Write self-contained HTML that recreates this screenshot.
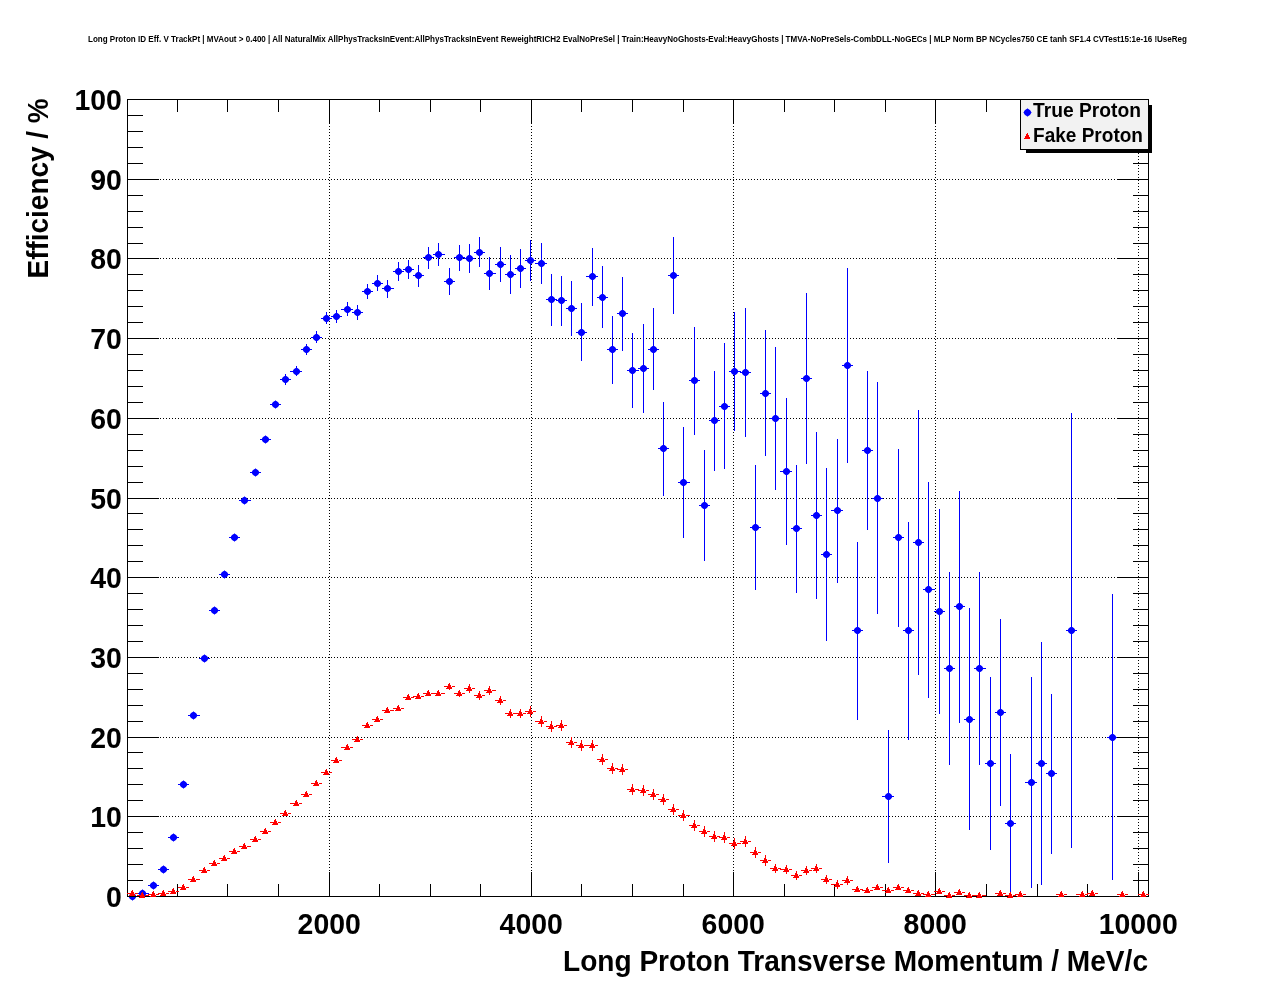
<!DOCTYPE html>
<html lang="en"><head><meta charset="utf-8"><title>Long Proton ID Eff. V TrackPt</title>
<style>
html,body{margin:0;padding:0;background:#fff;}
body{width:1276px;height:996px;overflow:hidden;}
svg{display:block;}
svg text{font-family:"Liberation Sans",sans-serif;font-weight:bold;fill:#000;}
</style></head>
<body>
<svg width="1276" height="996" viewBox="0 0 1276 996">
<rect x="0" y="0" width="1276" height="996" fill="#fff"/>
<g stroke="#000" stroke-width="1" stroke-dasharray="1 2" shape-rendering="crispEdges"><line x1="127" y1="816.5" x2="1149" y2="816.5"/><line x1="127" y1="737.5" x2="1149" y2="737.5"/><line x1="127" y1="657.5" x2="1149" y2="657.5"/><line x1="127" y1="577.5" x2="1149" y2="577.5"/><line x1="127" y1="498.5" x2="1149" y2="498.5"/><line x1="127" y1="418.5" x2="1149" y2="418.5"/><line x1="127" y1="338.5" x2="1149" y2="338.5"/><line x1="127" y1="258.5" x2="1149" y2="258.5"/><line x1="127" y1="179.5" x2="1149" y2="179.5"/><line x1="329.5" y1="99" x2="329.5" y2="897"/><line x1="531.5" y1="99" x2="531.5" y2="897"/><line x1="733.5" y1="99" x2="733.5" y2="897"/><line x1="935.5" y1="99" x2="935.5" y2="897"/><line x1="1138.5" y1="99" x2="1138.5" y2="897"/></g>
<path fill="#00f" shape-rendering="crispEdges" d="M127 896h11v1h-11zM137 893h12v1h-12zM148 885h11v1h-11zM158 869h11v1h-11zM168 837h11v1h-11zM178 784h11v1h-11zM188 715h12v1h-12zM199 658h11v1h-11zM209 610h11v1h-11zM219 574h11v1h-11zM229 537h11v1h-11zM239 500h12v1h-12zM250 472h11v1h-11zM260 439h11v1h-11zM270 404h11v1h-11zM280 379h11v1h-11zM285 374h1v11h-1zM290 371h12v1h-12zM296 366h1v10h-1zM301 349h11v1h-11zM306 344h1v11h-1zM311 337h11v1h-11zM316 331h1v12h-1zM321 318h11v1h-11zM326 312h1v12h-1zM331 316h11v1h-11zM336 310h1v13h-1zM341 309h12v1h-12zM347 302h1v14h-1zM352 312h11v1h-11zM357 305h1v15h-1zM362 291h11v1h-11zM367 284h1v15h-1zM372 283h11v1h-11zM377 275h1v16h-1zM382 288h12v1h-12zM387 280h1v18h-1zM393 271h11v1h-11zM398 262h1v19h-1zM403 269h11v1h-11zM408 260h1v19h-1zM413 275h11v1h-11zM418 265h1v22h-1zM423 257h11v1h-11zM428 247h1v22h-1zM433 254h12v1h-12zM438 243h1v23h-1zM444 281h11v1h-11zM449 268h1v27h-1zM454 257h11v1h-11zM459 245h1v26h-1zM464 258h11v1h-11zM469 244h1v29h-1zM474 252h11v1h-11zM479 237h1v30h-1zM484 273h12v1h-12zM489 257h1v33h-1zM495 264h11v1h-11zM500 247h1v35h-1zM505 274h11v1h-11zM510 255h1v39h-1zM515 268h11v1h-11zM520 249h1v39h-1zM525 260h11v1h-11zM530 240h1v41h-1zM535 263h12v1h-12zM541 243h1v41h-1zM546 299h11v1h-11zM551 274h1v52h-1zM556 300h11v1h-11zM561 276h1v50h-1zM566 308h11v1h-11zM571 281h1v55h-1zM576 332h11v1h-11zM581 303h1v58h-1zM586 276h12v1h-12zM592 248h1v58h-1zM597 297h11v1h-11zM602 266h1v62h-1zM607 349h11v1h-11zM612 316h1v68h-1zM617 313h11v1h-11zM622 277h1v74h-1zM627 370h12v1h-12zM632 333h1v75h-1zM638 368h11v1h-11zM643 324h1v89h-1zM648 349h11v1h-11zM653 308h1v82h-1zM658 448h11v1h-11zM663 402h1v94h-1zM668 275h11v1h-11zM673 237h1v77h-1zM678 482h12v1h-12zM683 427h1v111h-1zM689 380h11v1h-11zM694 327h1v108h-1zM699 505h11v1h-11zM704 450h1v111h-1zM709 420h11v1h-11zM714 371h1v100h-1zM719 406h11v1h-11zM724 343h1v126h-1zM729 371h12v1h-12zM734 312h1v119h-1zM740 372h11v1h-11zM745 308h1v129h-1zM750 527h11v1h-11zM755 465h1v125h-1zM760 393h11v1h-11zM765 330h1v126h-1zM770 418h11v1h-11zM775 347h1v143h-1zM780 471h12v1h-12zM786 398h1v147h-1zM791 528h11v1h-11zM796 465h1v128h-1zM801 378h11v1h-11zM806 293h1v171h-1zM811 515h11v1h-11zM816 432h1v167h-1zM821 554h11v1h-11zM826 468h1v173h-1zM831 510h12v1h-12zM837 439h1v144h-1zM842 365h11v1h-11zM847 268h1v195h-1zM852 630h11v1h-11zM857 542h1v178h-1zM862 450h11v1h-11zM867 371h1v159h-1zM872 498h11v1h-11zM877 382h1v232h-1zM882 796h12v1h-12zM888 730h1v133h-1zM893 537h11v1h-11zM898 449h1v178h-1zM903 630h11v1h-11zM908 522h1v218h-1zM913 542h11v1h-11zM918 410h1v265h-1zM923 589h12v1h-12zM928 482h1v216h-1zM934 611h11v1h-11zM939 509h1v205h-1zM944 668h11v1h-11zM949 572h1v193h-1zM954 606h11v1h-11zM959 491h1v232h-1zM964 719h11v1h-11zM969 608h1v222h-1zM974 668h12v1h-12zM979 572h1v193h-1zM985 763h11v1h-11zM990 677h1v173h-1zM995 712h11v1h-11zM1000 619h1v187h-1zM1005 823h11v1h-11zM1010 754h1v139h-1zM1025 782h12v1h-12zM1031 677h1v211h-1zM1036 763h11v1h-11zM1041 642h1v243h-1zM1046 773h11v1h-11zM1051 694h1v160h-1zM1066 630h11v1h-11zM1071 413h1v435h-1zM1107 737h11v1h-11zM1112 594h1v286h-1z"/>
<g fill="#00f"><circle cx="132.5" cy="896.5" r="3.3"/><circle cx="142.5" cy="893.5" r="3.3"/><circle cx="153.5" cy="885.5" r="3.3"/><circle cx="163.5" cy="869.5" r="3.3"/><circle cx="173.5" cy="837.5" r="3.3"/><circle cx="183.5" cy="784.5" r="3.3"/><circle cx="193.5" cy="715.5" r="3.3"/><circle cx="204.5" cy="658.5" r="3.3"/><circle cx="214.5" cy="610.5" r="3.3"/><circle cx="224.5" cy="574.5" r="3.3"/><circle cx="234.5" cy="537.5" r="3.3"/><circle cx="244.5" cy="500.5" r="3.3"/><circle cx="255.5" cy="472.5" r="3.3"/><circle cx="265.5" cy="439.5" r="3.3"/><circle cx="275.5" cy="404.5" r="3.3"/><circle cx="285.5" cy="379.5" r="3.3"/><circle cx="296.5" cy="371.5" r="3.3"/><circle cx="306.5" cy="349.5" r="3.3"/><circle cx="316.5" cy="337.5" r="3.3"/><circle cx="326.5" cy="318.5" r="3.3"/><circle cx="336.5" cy="316.5" r="3.3"/><circle cx="347.5" cy="309.5" r="3.3"/><circle cx="357.5" cy="312.5" r="3.3"/><circle cx="367.5" cy="291.5" r="3.3"/><circle cx="377.5" cy="283.5" r="3.3"/><circle cx="387.5" cy="288.5" r="3.3"/><circle cx="398.5" cy="271.5" r="3.3"/><circle cx="408.5" cy="269.5" r="3.3"/><circle cx="418.5" cy="275.5" r="3.3"/><circle cx="428.5" cy="257.5" r="3.3"/><circle cx="438.5" cy="254.5" r="3.3"/><circle cx="449.5" cy="281.5" r="3.3"/><circle cx="459.5" cy="257.5" r="3.3"/><circle cx="469.5" cy="258.5" r="3.3"/><circle cx="479.5" cy="252.5" r="3.3"/><circle cx="489.5" cy="273.5" r="3.3"/><circle cx="500.5" cy="264.5" r="3.3"/><circle cx="510.5" cy="274.5" r="3.3"/><circle cx="520.5" cy="268.5" r="3.3"/><circle cx="530.5" cy="260.5" r="3.3"/><circle cx="541.5" cy="263.5" r="3.3"/><circle cx="551.5" cy="299.5" r="3.3"/><circle cx="561.5" cy="300.5" r="3.3"/><circle cx="571.5" cy="308.5" r="3.3"/><circle cx="581.5" cy="332.5" r="3.3"/><circle cx="592.5" cy="276.5" r="3.3"/><circle cx="602.5" cy="297.5" r="3.3"/><circle cx="612.5" cy="349.5" r="3.3"/><circle cx="622.5" cy="313.5" r="3.3"/><circle cx="632.5" cy="370.5" r="3.3"/><circle cx="643.5" cy="368.5" r="3.3"/><circle cx="653.5" cy="349.5" r="3.3"/><circle cx="663.5" cy="448.5" r="3.3"/><circle cx="673.5" cy="275.5" r="3.3"/><circle cx="683.5" cy="482.5" r="3.3"/><circle cx="694.5" cy="380.5" r="3.3"/><circle cx="704.5" cy="505.5" r="3.3"/><circle cx="714.5" cy="420.5" r="3.3"/><circle cx="724.5" cy="406.5" r="3.3"/><circle cx="734.5" cy="371.5" r="3.3"/><circle cx="745.5" cy="372.5" r="3.3"/><circle cx="755.5" cy="527.5" r="3.3"/><circle cx="765.5" cy="393.5" r="3.3"/><circle cx="775.5" cy="418.5" r="3.3"/><circle cx="786.5" cy="471.5" r="3.3"/><circle cx="796.5" cy="528.5" r="3.3"/><circle cx="806.5" cy="378.5" r="3.3"/><circle cx="816.5" cy="515.5" r="3.3"/><circle cx="826.5" cy="554.5" r="3.3"/><circle cx="837.5" cy="510.5" r="3.3"/><circle cx="847.5" cy="365.5" r="3.3"/><circle cx="857.5" cy="630.5" r="3.3"/><circle cx="867.5" cy="450.5" r="3.3"/><circle cx="877.5" cy="498.5" r="3.3"/><circle cx="888.5" cy="796.5" r="3.3"/><circle cx="898.5" cy="537.5" r="3.3"/><circle cx="908.5" cy="630.5" r="3.3"/><circle cx="918.5" cy="542.5" r="3.3"/><circle cx="928.5" cy="589.5" r="3.3"/><circle cx="939.5" cy="611.5" r="3.3"/><circle cx="949.5" cy="668.5" r="3.3"/><circle cx="959.5" cy="606.5" r="3.3"/><circle cx="969.5" cy="719.5" r="3.3"/><circle cx="979.5" cy="668.5" r="3.3"/><circle cx="990.5" cy="763.5" r="3.3"/><circle cx="1000.5" cy="712.5" r="3.3"/><circle cx="1010.5" cy="823.5" r="3.3"/><circle cx="1031.5" cy="782.5" r="3.3"/><circle cx="1041.5" cy="763.5" r="3.3"/><circle cx="1051.5" cy="773.5" r="3.3"/><circle cx="1071.5" cy="630.5" r="3.3"/><circle cx="1112.5" cy="737.5" r="3.3"/><path d="M132.5 892.3l4.2 4.2l-4.2 4.2l-4.2 -4.2zM142.5 889.3l4.2 4.2l-4.2 4.2l-4.2 -4.2zM153.5 881.3l4.2 4.2l-4.2 4.2l-4.2 -4.2zM163.5 865.3l4.2 4.2l-4.2 4.2l-4.2 -4.2zM173.5 833.3l4.2 4.2l-4.2 4.2l-4.2 -4.2zM183.5 780.3l4.2 4.2l-4.2 4.2l-4.2 -4.2zM193.5 711.3l4.2 4.2l-4.2 4.2l-4.2 -4.2zM204.5 654.3l4.2 4.2l-4.2 4.2l-4.2 -4.2zM214.5 606.3l4.2 4.2l-4.2 4.2l-4.2 -4.2zM224.5 570.3l4.2 4.2l-4.2 4.2l-4.2 -4.2zM234.5 533.3l4.2 4.2l-4.2 4.2l-4.2 -4.2zM244.5 496.3l4.2 4.2l-4.2 4.2l-4.2 -4.2zM255.5 468.3l4.2 4.2l-4.2 4.2l-4.2 -4.2zM265.5 435.3l4.2 4.2l-4.2 4.2l-4.2 -4.2zM275.5 400.3l4.2 4.2l-4.2 4.2l-4.2 -4.2zM285.5 375.3l4.2 4.2l-4.2 4.2l-4.2 -4.2zM296.5 367.3l4.2 4.2l-4.2 4.2l-4.2 -4.2zM306.5 345.3l4.2 4.2l-4.2 4.2l-4.2 -4.2zM316.5 333.3l4.2 4.2l-4.2 4.2l-4.2 -4.2zM326.5 314.3l4.2 4.2l-4.2 4.2l-4.2 -4.2zM336.5 312.3l4.2 4.2l-4.2 4.2l-4.2 -4.2zM347.5 305.3l4.2 4.2l-4.2 4.2l-4.2 -4.2zM357.5 308.3l4.2 4.2l-4.2 4.2l-4.2 -4.2zM367.5 287.3l4.2 4.2l-4.2 4.2l-4.2 -4.2zM377.5 279.3l4.2 4.2l-4.2 4.2l-4.2 -4.2zM387.5 284.3l4.2 4.2l-4.2 4.2l-4.2 -4.2zM398.5 267.3l4.2 4.2l-4.2 4.2l-4.2 -4.2zM408.5 265.3l4.2 4.2l-4.2 4.2l-4.2 -4.2zM418.5 271.3l4.2 4.2l-4.2 4.2l-4.2 -4.2zM428.5 253.3l4.2 4.2l-4.2 4.2l-4.2 -4.2zM438.5 250.3l4.2 4.2l-4.2 4.2l-4.2 -4.2zM449.5 277.3l4.2 4.2l-4.2 4.2l-4.2 -4.2zM459.5 253.3l4.2 4.2l-4.2 4.2l-4.2 -4.2zM469.5 254.3l4.2 4.2l-4.2 4.2l-4.2 -4.2zM479.5 248.3l4.2 4.2l-4.2 4.2l-4.2 -4.2zM489.5 269.3l4.2 4.2l-4.2 4.2l-4.2 -4.2zM500.5 260.3l4.2 4.2l-4.2 4.2l-4.2 -4.2zM510.5 270.3l4.2 4.2l-4.2 4.2l-4.2 -4.2zM520.5 264.3l4.2 4.2l-4.2 4.2l-4.2 -4.2zM530.5 256.3l4.2 4.2l-4.2 4.2l-4.2 -4.2zM541.5 259.3l4.2 4.2l-4.2 4.2l-4.2 -4.2zM551.5 295.3l4.2 4.2l-4.2 4.2l-4.2 -4.2zM561.5 296.3l4.2 4.2l-4.2 4.2l-4.2 -4.2zM571.5 304.3l4.2 4.2l-4.2 4.2l-4.2 -4.2zM581.5 328.3l4.2 4.2l-4.2 4.2l-4.2 -4.2zM592.5 272.3l4.2 4.2l-4.2 4.2l-4.2 -4.2zM602.5 293.3l4.2 4.2l-4.2 4.2l-4.2 -4.2zM612.5 345.3l4.2 4.2l-4.2 4.2l-4.2 -4.2zM622.5 309.3l4.2 4.2l-4.2 4.2l-4.2 -4.2zM632.5 366.3l4.2 4.2l-4.2 4.2l-4.2 -4.2zM643.5 364.3l4.2 4.2l-4.2 4.2l-4.2 -4.2zM653.5 345.3l4.2 4.2l-4.2 4.2l-4.2 -4.2zM663.5 444.3l4.2 4.2l-4.2 4.2l-4.2 -4.2zM673.5 271.3l4.2 4.2l-4.2 4.2l-4.2 -4.2zM683.5 478.3l4.2 4.2l-4.2 4.2l-4.2 -4.2zM694.5 376.3l4.2 4.2l-4.2 4.2l-4.2 -4.2zM704.5 501.3l4.2 4.2l-4.2 4.2l-4.2 -4.2zM714.5 416.3l4.2 4.2l-4.2 4.2l-4.2 -4.2zM724.5 402.3l4.2 4.2l-4.2 4.2l-4.2 -4.2zM734.5 367.3l4.2 4.2l-4.2 4.2l-4.2 -4.2zM745.5 368.3l4.2 4.2l-4.2 4.2l-4.2 -4.2zM755.5 523.3l4.2 4.2l-4.2 4.2l-4.2 -4.2zM765.5 389.3l4.2 4.2l-4.2 4.2l-4.2 -4.2zM775.5 414.3l4.2 4.2l-4.2 4.2l-4.2 -4.2zM786.5 467.3l4.2 4.2l-4.2 4.2l-4.2 -4.2zM796.5 524.3l4.2 4.2l-4.2 4.2l-4.2 -4.2zM806.5 374.3l4.2 4.2l-4.2 4.2l-4.2 -4.2zM816.5 511.3l4.2 4.2l-4.2 4.2l-4.2 -4.2zM826.5 550.3l4.2 4.2l-4.2 4.2l-4.2 -4.2zM837.5 506.3l4.2 4.2l-4.2 4.2l-4.2 -4.2zM847.5 361.3l4.2 4.2l-4.2 4.2l-4.2 -4.2zM857.5 626.3l4.2 4.2l-4.2 4.2l-4.2 -4.2zM867.5 446.3l4.2 4.2l-4.2 4.2l-4.2 -4.2zM877.5 494.3l4.2 4.2l-4.2 4.2l-4.2 -4.2zM888.5 792.3l4.2 4.2l-4.2 4.2l-4.2 -4.2zM898.5 533.3l4.2 4.2l-4.2 4.2l-4.2 -4.2zM908.5 626.3l4.2 4.2l-4.2 4.2l-4.2 -4.2zM918.5 538.3l4.2 4.2l-4.2 4.2l-4.2 -4.2zM928.5 585.3l4.2 4.2l-4.2 4.2l-4.2 -4.2zM939.5 607.3l4.2 4.2l-4.2 4.2l-4.2 -4.2zM949.5 664.3l4.2 4.2l-4.2 4.2l-4.2 -4.2zM959.5 602.3l4.2 4.2l-4.2 4.2l-4.2 -4.2zM969.5 715.3l4.2 4.2l-4.2 4.2l-4.2 -4.2zM979.5 664.3l4.2 4.2l-4.2 4.2l-4.2 -4.2zM990.5 759.3l4.2 4.2l-4.2 4.2l-4.2 -4.2zM1000.5 708.3l4.2 4.2l-4.2 4.2l-4.2 -4.2zM1010.5 819.3l4.2 4.2l-4.2 4.2l-4.2 -4.2zM1031.5 778.3l4.2 4.2l-4.2 4.2l-4.2 -4.2zM1041.5 759.3l4.2 4.2l-4.2 4.2l-4.2 -4.2zM1051.5 769.3l4.2 4.2l-4.2 4.2l-4.2 -4.2zM1071.5 626.3l4.2 4.2l-4.2 4.2l-4.2 -4.2zM1112.5 733.3l4.2 4.2l-4.2 4.2l-4.2 -4.2z"/></g>
<path fill="#000" shape-rendering="crispEdges" d="M127 99h1022v1h-1022zM127 896h1022v1h-1022zM127 99h1v798h-1zM1148 99h1v798h-1zM177 884h1v12h-1zM177 100h1v12h-1zM227 884h1v12h-1zM227 100h1v12h-1zM278 884h1v12h-1zM278 100h1v12h-1zM329 872h1v24h-1zM329 100h1v24h-1zM379 884h1v12h-1zM379 100h1v12h-1zM430 884h1v12h-1zM430 100h1v12h-1zM480 884h1v12h-1zM480 100h1v12h-1zM531 872h1v24h-1zM531 100h1v24h-1zM581 884h1v12h-1zM581 100h1v12h-1zM632 884h1v12h-1zM632 100h1v12h-1zM683 884h1v12h-1zM683 100h1v12h-1zM733 872h1v24h-1zM733 100h1v24h-1zM784 884h1v12h-1zM784 100h1v12h-1zM834 884h1v12h-1zM834 100h1v12h-1zM885 884h1v12h-1zM885 100h1v12h-1zM935 872h1v24h-1zM935 100h1v24h-1zM986 884h1v12h-1zM986 100h1v12h-1zM1037 884h1v12h-1zM1037 100h1v12h-1zM1087 884h1v12h-1zM1087 100h1v12h-1zM1138 872h1v24h-1zM1138 100h1v24h-1zM128 880h15v1h-15zM1133 880h15v1h-15zM128 864h15v1h-15zM1133 864h15v1h-15zM128 848h15v1h-15zM1133 848h15v1h-15zM128 832h15v1h-15zM1133 832h15v1h-15zM128 816h31v1h-31zM1117 816h31v1h-31zM128 800h15v1h-15zM1133 800h15v1h-15zM128 784h15v1h-15zM1133 784h15v1h-15zM128 768h15v1h-15zM1133 768h15v1h-15zM128 752h15v1h-15zM1133 752h15v1h-15zM128 737h31v1h-31zM1117 737h31v1h-31zM128 721h15v1h-15zM1133 721h15v1h-15zM128 705h15v1h-15zM1133 705h15v1h-15zM128 689h15v1h-15zM1133 689h15v1h-15zM128 673h15v1h-15zM1133 673h15v1h-15zM128 657h31v1h-31zM1117 657h31v1h-31zM128 641h15v1h-15zM1133 641h15v1h-15zM128 625h15v1h-15zM1133 625h15v1h-15zM128 609h15v1h-15zM1133 609h15v1h-15zM128 593h15v1h-15zM1133 593h15v1h-15zM128 577h31v1h-31zM1117 577h31v1h-31zM128 561h15v1h-15zM1133 561h15v1h-15zM128 545h15v1h-15zM1133 545h15v1h-15zM128 529h15v1h-15zM1133 529h15v1h-15zM128 513h15v1h-15zM1133 513h15v1h-15zM128 498h31v1h-31zM1117 498h31v1h-31zM128 482h15v1h-15zM1133 482h15v1h-15zM128 466h15v1h-15zM1133 466h15v1h-15zM128 450h15v1h-15zM1133 450h15v1h-15zM128 434h15v1h-15zM1133 434h15v1h-15zM128 418h31v1h-31zM1117 418h31v1h-31zM128 402h15v1h-15zM1133 402h15v1h-15zM128 386h15v1h-15zM1133 386h15v1h-15zM128 370h15v1h-15zM1133 370h15v1h-15zM128 354h15v1h-15zM1133 354h15v1h-15zM128 338h31v1h-31zM1117 338h31v1h-31zM128 322h15v1h-15zM1133 322h15v1h-15zM128 306h15v1h-15zM1133 306h15v1h-15zM128 290h15v1h-15zM1133 290h15v1h-15zM128 274h15v1h-15zM1133 274h15v1h-15zM128 258h31v1h-31zM1117 258h31v1h-31zM128 243h15v1h-15zM1133 243h15v1h-15zM128 227h15v1h-15zM1133 227h15v1h-15zM128 211h15v1h-15zM1133 211h15v1h-15zM128 195h15v1h-15zM1133 195h15v1h-15zM128 179h31v1h-31zM1117 179h31v1h-31zM128 163h15v1h-15zM1133 163h15v1h-15zM128 147h15v1h-15zM1133 147h15v1h-15zM128 131h15v1h-15zM1133 131h15v1h-15zM128 115h15v1h-15zM1133 115h15v1h-15z"/>
<path fill="#f00" shape-rendering="crispEdges" d="M127 893h3v1h-3zM135 893h3v1h-3zM132 890h1v1h-1zM131 891h2v1h-2zM131 892h3v1h-3zM130 893h4v1h-4zM130 894h5v1h-5zM129 895h6v1h-6zM137 895h3v1h-3zM145 895h4v1h-4zM142 892h1v1h-1zM141 893h2v1h-2zM141 894h3v1h-3zM140 895h4v1h-4zM140 896h5v1h-5zM139 897h6v1h-6zM148 894h3v1h-3zM156 894h3v1h-3zM153 891h1v1h-1zM152 892h2v1h-2zM152 893h3v1h-3zM151 894h4v1h-4zM151 895h5v1h-5zM150 896h6v1h-6zM158 893h3v1h-3zM166 893h3v1h-3zM163 890h1v1h-1zM162 891h2v1h-2zM162 892h3v1h-3zM161 893h4v1h-4zM161 894h5v1h-5zM160 895h6v1h-6zM168 891h3v1h-3zM176 891h3v1h-3zM173 888h1v1h-1zM172 889h2v1h-2zM172 890h3v1h-3zM171 891h4v1h-4zM171 892h5v1h-5zM170 893h6v1h-6zM178 887h3v1h-3zM186 887h3v1h-3zM183 884h1v1h-1zM182 885h2v1h-2zM182 886h3v1h-3zM181 887h4v1h-4zM181 888h5v1h-5zM180 889h6v1h-6zM188 879h3v1h-3zM196 879h4v1h-4zM193 876h1v1h-1zM192 877h2v1h-2zM192 878h3v1h-3zM191 879h4v1h-4zM191 880h5v1h-5zM190 881h6v1h-6zM199 870h3v1h-3zM207 870h3v1h-3zM204 867h1v1h-1zM203 868h2v1h-2zM203 869h3v1h-3zM202 870h4v1h-4zM202 871h5v1h-5zM201 872h6v1h-6zM209 863h3v1h-3zM217 863h3v1h-3zM214 860h1v1h-1zM213 861h2v1h-2zM213 862h3v1h-3zM212 863h4v1h-4zM212 864h5v1h-5zM211 865h6v1h-6zM219 858h3v1h-3zM227 858h3v1h-3zM224 855h1v1h-1zM223 856h2v1h-2zM223 857h3v1h-3zM222 858h4v1h-4zM222 859h5v1h-5zM221 860h6v1h-6zM229 851h3v1h-3zM237 851h3v1h-3zM234 848h1v1h-1zM233 849h2v1h-2zM233 850h3v1h-3zM232 851h4v1h-4zM232 852h5v1h-5zM231 853h6v1h-6zM239 846h3v1h-3zM247 846h4v1h-4zM244 843h1v1h-1zM243 844h2v1h-2zM243 845h3v1h-3zM242 846h4v1h-4zM242 847h5v1h-5zM241 848h6v1h-6zM250 839h3v1h-3zM258 839h3v1h-3zM255 836h1v1h-1zM254 837h2v1h-2zM254 838h3v1h-3zM253 839h4v1h-4zM253 840h5v1h-5zM252 841h6v1h-6zM260 831h3v1h-3zM268 831h3v1h-3zM265 828h1v1h-1zM264 829h2v1h-2zM264 830h3v1h-3zM263 831h4v1h-4zM263 832h5v1h-5zM262 833h6v1h-6zM270 822h3v1h-3zM278 822h3v1h-3zM275 819h1v1h-1zM274 820h2v1h-2zM274 821h3v1h-3zM273 822h4v1h-4zM273 823h5v1h-5zM272 824h6v1h-6zM280 813h3v1h-3zM288 813h3v1h-3zM285 810h1v1h-1zM284 811h2v1h-2zM284 812h3v1h-3zM283 813h4v1h-4zM283 814h5v1h-5zM282 815h6v1h-6zM290 803h4v1h-4zM299 803h3v1h-3zM296 800h1v1h-1zM295 801h2v1h-2zM295 802h3v1h-3zM294 803h4v1h-4zM294 804h5v1h-5zM293 805h6v1h-6zM301 794h3v1h-3zM309 794h3v1h-3zM306 791h1v1h-1zM305 792h2v1h-2zM305 793h3v1h-3zM304 794h4v1h-4zM304 795h5v1h-5zM303 796h6v1h-6zM311 783h3v1h-3zM319 783h3v1h-3zM316 780h1v1h-1zM315 781h2v1h-2zM315 782h3v1h-3zM314 783h4v1h-4zM314 784h5v1h-5zM313 785h6v1h-6zM321 772h3v1h-3zM329 772h3v1h-3zM326 769h1v1h-1zM325 770h2v1h-2zM325 771h3v1h-3zM324 772h4v1h-4zM324 773h5v1h-5zM323 774h6v1h-6zM331 760h3v1h-3zM339 760h3v1h-3zM336 757h1v1h-1zM335 758h2v1h-2zM335 759h3v1h-3zM334 760h4v1h-4zM334 761h5v1h-5zM333 762h6v1h-6zM341 747h4v1h-4zM350 747h3v1h-3zM347 744h1v1h-1zM346 745h2v1h-2zM346 746h3v1h-3zM345 747h4v1h-4zM345 748h5v1h-5zM344 749h6v1h-6zM352 739h3v1h-3zM360 739h3v1h-3zM357 736h1v1h-1zM356 737h2v1h-2zM356 738h3v1h-3zM355 739h4v1h-4zM355 740h5v1h-5zM354 741h6v1h-6zM362 725h3v1h-3zM370 725h3v1h-3zM367 722h1v1h-1zM366 723h2v1h-2zM366 724h3v1h-3zM365 725h4v1h-4zM365 726h5v1h-5zM364 727h6v1h-6zM372 719h3v1h-3zM380 719h3v1h-3zM377 716h1v1h-1zM376 717h2v1h-2zM376 718h3v1h-3zM375 719h4v1h-4zM375 720h5v1h-5zM374 721h6v1h-6zM382 710h3v1h-3zM390 710h4v1h-4zM387 707h1v1h-1zM386 708h2v1h-2zM386 709h3v1h-3zM385 710h4v1h-4zM385 711h5v1h-5zM384 712h6v1h-6zM393 708h3v1h-3zM401 708h3v1h-3zM398 705h1v1h-1zM397 706h2v1h-2zM397 707h3v1h-3zM396 708h4v1h-4zM396 709h5v1h-5zM395 710h6v1h-6zM403 697h3v1h-3zM411 697h3v1h-3zM408 694h1v1h-1zM407 695h2v1h-2zM407 696h3v1h-3zM406 697h4v1h-4zM406 698h5v1h-5zM405 699h6v1h-6zM413 696h3v1h-3zM421 696h3v1h-3zM418 693h1v1h-1zM417 694h2v1h-2zM417 695h3v1h-3zM416 696h4v1h-4zM416 697h5v1h-5zM415 698h6v1h-6zM423 693h3v1h-3zM431 693h3v1h-3zM428 690h1v1h-1zM427 691h2v1h-2zM427 692h3v1h-3zM426 693h4v1h-4zM426 694h5v1h-5zM425 695h6v1h-6zM433 693h3v1h-3zM441 693h4v1h-4zM438 690h1v1h-1zM437 691h2v1h-2zM437 692h3v1h-3zM436 693h4v1h-4zM436 694h5v1h-5zM435 695h6v1h-6zM444 686h3v1h-3zM452 686h3v1h-3zM449 683h1v7h-1zM449 683h1v1h-1zM448 684h2v1h-2zM448 685h3v1h-3zM447 686h4v1h-4zM447 687h5v1h-5zM446 688h6v1h-6zM454 693h3v1h-3zM462 693h3v1h-3zM459 690h1v7h-1zM459 690h1v1h-1zM458 691h2v1h-2zM458 692h3v1h-3zM457 693h4v1h-4zM457 694h5v1h-5zM456 695h6v1h-6zM464 688h3v1h-3zM472 688h3v1h-3zM469 684h1v9h-1zM469 685h1v1h-1zM468 686h2v1h-2zM468 687h3v1h-3zM467 688h4v1h-4zM467 689h5v1h-5zM466 690h6v1h-6zM474 695h3v1h-3zM482 695h3v1h-3zM479 691h1v9h-1zM479 692h1v1h-1zM478 693h2v1h-2zM478 694h3v1h-3zM477 695h4v1h-4zM477 696h5v1h-5zM476 697h6v1h-6zM484 690h3v1h-3zM492 690h4v1h-4zM489 686h1v9h-1zM489 687h1v1h-1zM488 688h2v1h-2zM488 689h3v1h-3zM487 690h4v1h-4zM487 691h5v1h-5zM486 692h6v1h-6zM495 700h3v1h-3zM503 700h3v1h-3zM500 696h1v9h-1zM500 697h1v1h-1zM499 698h2v1h-2zM499 699h3v1h-3zM498 700h4v1h-4zM498 701h5v1h-5zM497 702h6v1h-6zM505 713h3v1h-3zM513 713h3v1h-3zM510 709h1v9h-1zM510 710h1v1h-1zM509 711h2v1h-2zM509 712h3v1h-3zM508 713h4v1h-4zM508 714h5v1h-5zM507 715h6v1h-6zM515 713h3v1h-3zM523 713h3v1h-3zM520 709h1v9h-1zM520 710h1v1h-1zM519 711h2v1h-2zM519 712h3v1h-3zM518 713h4v1h-4zM518 714h5v1h-5zM517 715h6v1h-6zM525 711h3v1h-3zM533 711h3v1h-3zM530 706h1v11h-1zM530 708h1v1h-1zM529 709h2v1h-2zM529 710h3v1h-3zM528 711h4v1h-4zM528 712h5v1h-5zM527 713h6v1h-6zM535 721h4v1h-4zM544 721h3v1h-3zM541 716h1v11h-1zM541 718h1v1h-1zM540 719h2v1h-2zM540 720h3v1h-3zM539 721h4v1h-4zM539 722h5v1h-5zM538 723h6v1h-6zM546 726h3v1h-3zM554 726h3v1h-3zM551 721h1v11h-1zM551 723h1v1h-1zM550 724h2v1h-2zM550 725h3v1h-3zM549 726h4v1h-4zM549 727h5v1h-5zM548 728h6v1h-6zM556 725h3v1h-3zM564 725h3v1h-3zM561 720h1v11h-1zM561 722h1v1h-1zM560 723h2v1h-2zM560 724h3v1h-3zM559 725h4v1h-4zM559 726h5v1h-5zM558 727h6v1h-6zM566 742h3v1h-3zM574 742h3v1h-3zM571 737h1v11h-1zM571 739h1v1h-1zM570 740h2v1h-2zM570 741h3v1h-3zM569 742h4v1h-4zM569 743h5v1h-5zM568 744h6v1h-6zM576 745h3v1h-3zM584 745h3v1h-3zM581 740h1v11h-1zM581 742h1v1h-1zM580 743h2v1h-2zM580 744h3v1h-3zM579 745h4v1h-4zM579 746h5v1h-5zM578 747h6v1h-6zM586 745h4v1h-4zM595 745h3v1h-3zM592 740h1v11h-1zM592 742h1v1h-1zM591 743h2v1h-2zM591 744h3v1h-3zM590 745h4v1h-4zM590 746h5v1h-5zM589 747h6v1h-6zM597 759h3v1h-3zM605 759h3v1h-3zM602 754h1v11h-1zM602 756h1v1h-1zM601 757h2v1h-2zM601 758h3v1h-3zM600 759h4v1h-4zM600 760h5v1h-5zM599 761h6v1h-6zM607 768h3v1h-3zM615 768h3v1h-3zM612 763h1v11h-1zM612 765h1v1h-1zM611 766h2v1h-2zM611 767h3v1h-3zM610 768h4v1h-4zM610 769h5v1h-5zM609 770h6v1h-6zM617 769h3v1h-3zM625 769h3v1h-3zM622 764h1v11h-1zM622 766h1v1h-1zM621 767h2v1h-2zM621 768h3v1h-3zM620 769h4v1h-4zM620 770h5v1h-5zM619 771h6v1h-6zM627 789h3v1h-3zM635 789h4v1h-4zM632 784h1v11h-1zM632 786h1v1h-1zM631 787h2v1h-2zM631 788h3v1h-3zM630 789h4v1h-4zM630 790h5v1h-5zM629 791h6v1h-6zM638 790h3v1h-3zM646 790h3v1h-3zM643 785h1v11h-1zM643 787h1v1h-1zM642 788h2v1h-2zM642 789h3v1h-3zM641 790h4v1h-4zM641 791h5v1h-5zM640 792h6v1h-6zM648 794h3v1h-3zM656 794h3v1h-3zM653 789h1v11h-1zM653 791h1v1h-1zM652 792h2v1h-2zM652 793h3v1h-3zM651 794h4v1h-4zM651 795h5v1h-5zM650 796h6v1h-6zM658 799h3v1h-3zM666 799h3v1h-3zM663 794h1v11h-1zM663 796h1v1h-1zM662 797h2v1h-2zM662 798h3v1h-3zM661 799h4v1h-4zM661 800h5v1h-5zM660 801h6v1h-6zM668 809h3v1h-3zM676 809h3v1h-3zM673 804h1v11h-1zM673 806h1v1h-1zM672 807h2v1h-2zM672 808h3v1h-3zM671 809h4v1h-4zM671 810h5v1h-5zM670 811h6v1h-6zM678 815h3v1h-3zM686 815h4v1h-4zM683 810h1v11h-1zM683 812h1v1h-1zM682 813h2v1h-2zM682 814h3v1h-3zM681 815h4v1h-4zM681 816h5v1h-5zM680 817h6v1h-6zM689 825h3v1h-3zM697 825h3v1h-3zM694 820h1v11h-1zM694 822h1v1h-1zM693 823h2v1h-2zM693 824h3v1h-3zM692 825h4v1h-4zM692 826h5v1h-5zM691 827h6v1h-6zM699 831h3v1h-3zM707 831h3v1h-3zM704 826h1v11h-1zM704 828h1v1h-1zM703 829h2v1h-2zM703 830h3v1h-3zM702 831h4v1h-4zM702 832h5v1h-5zM701 833h6v1h-6zM709 836h3v1h-3zM717 836h3v1h-3zM714 831h1v11h-1zM714 833h1v1h-1zM713 834h2v1h-2zM713 835h3v1h-3zM712 836h4v1h-4zM712 837h5v1h-5zM711 838h6v1h-6zM719 837h3v1h-3zM727 837h3v1h-3zM724 832h1v11h-1zM724 834h1v1h-1zM723 835h2v1h-2zM723 836h3v1h-3zM722 837h4v1h-4zM722 838h5v1h-5zM721 839h6v1h-6zM729 843h3v1h-3zM737 843h4v1h-4zM734 838h1v11h-1zM734 840h1v1h-1zM733 841h2v1h-2zM733 842h3v1h-3zM732 843h4v1h-4zM732 844h5v1h-5zM731 845h6v1h-6zM740 841h3v1h-3zM748 841h3v1h-3zM745 836h1v11h-1zM745 838h1v1h-1zM744 839h2v1h-2zM744 840h3v1h-3zM743 841h4v1h-4zM743 842h5v1h-5zM742 843h6v1h-6zM750 852h3v1h-3zM758 852h3v1h-3zM755 847h1v11h-1zM755 849h1v1h-1zM754 850h2v1h-2zM754 851h3v1h-3zM753 852h4v1h-4zM753 853h5v1h-5zM752 854h6v1h-6zM760 860h3v1h-3zM768 860h3v1h-3zM765 855h1v11h-1zM765 857h1v1h-1zM764 858h2v1h-2zM764 859h3v1h-3zM763 860h4v1h-4zM763 861h5v1h-5zM762 862h6v1h-6zM770 868h3v1h-3zM778 868h3v1h-3zM775 864h1v9h-1zM775 865h1v1h-1zM774 866h2v1h-2zM774 867h3v1h-3zM773 868h4v1h-4zM773 869h5v1h-5zM772 870h6v1h-6zM780 869h4v1h-4zM789 869h3v1h-3zM786 865h1v9h-1zM786 866h1v1h-1zM785 867h2v1h-2zM785 868h3v1h-3zM784 869h4v1h-4zM784 870h5v1h-5zM783 871h6v1h-6zM791 875h3v1h-3zM799 875h3v1h-3zM796 871h1v9h-1zM796 872h1v1h-1zM795 873h2v1h-2zM795 874h3v1h-3zM794 875h4v1h-4zM794 876h5v1h-5zM793 877h6v1h-6zM801 870h3v1h-3zM809 870h3v1h-3zM806 866h1v9h-1zM806 867h1v1h-1zM805 868h2v1h-2zM805 869h3v1h-3zM804 870h4v1h-4zM804 871h5v1h-5zM803 872h6v1h-6zM811 868h3v1h-3zM819 868h3v1h-3zM816 864h1v9h-1zM816 865h1v1h-1zM815 866h2v1h-2zM815 867h3v1h-3zM814 868h4v1h-4zM814 869h5v1h-5zM813 870h6v1h-6zM821 879h3v1h-3zM829 879h3v1h-3zM826 875h1v9h-1zM826 876h1v1h-1zM825 877h2v1h-2zM825 878h3v1h-3zM824 879h4v1h-4zM824 880h5v1h-5zM823 881h6v1h-6zM831 884h4v1h-4zM840 884h3v1h-3zM837 880h1v9h-1zM837 881h1v1h-1zM836 882h2v1h-2zM836 883h3v1h-3zM835 884h4v1h-4zM835 885h5v1h-5zM834 886h6v1h-6zM842 880h3v1h-3zM850 880h3v1h-3zM847 876h1v9h-1zM847 877h1v1h-1zM846 878h2v1h-2zM846 879h3v1h-3zM845 880h4v1h-4zM845 881h5v1h-5zM844 882h6v1h-6zM852 889h3v1h-3zM860 889h3v1h-3zM857 886h1v1h-1zM856 887h2v1h-2zM856 888h3v1h-3zM855 889h4v1h-4zM855 890h5v1h-5zM854 891h6v1h-6zM862 890h3v1h-3zM870 890h3v1h-3zM867 887h1v1h-1zM866 888h2v1h-2zM866 889h3v1h-3zM865 890h4v1h-4zM865 891h5v1h-5zM864 892h6v1h-6zM872 887h3v1h-3zM880 887h3v1h-3zM877 884h1v1h-1zM876 885h2v1h-2zM876 886h3v1h-3zM875 887h4v1h-4zM875 888h5v1h-5zM874 889h6v1h-6zM882 890h4v1h-4zM891 890h3v1h-3zM888 887h1v1h-1zM887 888h2v1h-2zM887 889h3v1h-3zM886 890h4v1h-4zM886 891h5v1h-5zM885 892h6v1h-6zM893 887h3v1h-3zM901 887h3v1h-3zM898 884h1v1h-1zM897 885h2v1h-2zM897 886h3v1h-3zM896 887h4v1h-4zM896 888h5v1h-5zM895 889h6v1h-6zM903 890h3v1h-3zM911 890h3v1h-3zM908 887h1v1h-1zM907 888h2v1h-2zM907 889h3v1h-3zM906 890h4v1h-4zM906 891h5v1h-5zM905 892h6v1h-6zM913 893h3v1h-3zM921 893h3v1h-3zM918 890h1v1h-1zM917 891h2v1h-2zM917 892h3v1h-3zM916 893h4v1h-4zM916 894h5v1h-5zM915 895h6v1h-6zM923 894h3v1h-3zM931 894h4v1h-4zM928 891h1v1h-1zM927 892h2v1h-2zM927 893h3v1h-3zM926 894h4v1h-4zM926 895h5v1h-5zM925 896h6v1h-6zM934 891h3v1h-3zM942 891h3v1h-3zM939 888h1v1h-1zM938 889h2v1h-2zM938 890h3v1h-3zM937 891h4v1h-4zM937 892h5v1h-5zM936 893h6v1h-6zM944 895h3v1h-3zM952 895h3v1h-3zM949 892h1v1h-1zM948 893h2v1h-2zM948 894h3v1h-3zM947 895h4v1h-4zM947 896h5v1h-5zM946 897h6v1h-6zM954 892h3v1h-3zM962 892h3v1h-3zM959 889h1v1h-1zM958 890h2v1h-2zM958 891h3v1h-3zM957 892h4v1h-4zM957 893h5v1h-5zM956 894h6v1h-6zM964 895h3v1h-3zM972 895h3v1h-3zM969 892h1v1h-1zM968 893h2v1h-2zM968 894h3v1h-3zM967 895h4v1h-4zM967 896h5v1h-5zM966 897h6v1h-6zM974 895h3v1h-3zM982 895h4v1h-4zM979 892h1v1h-1zM978 893h2v1h-2zM978 894h3v1h-3zM977 895h4v1h-4zM977 896h5v1h-5zM976 897h6v1h-6zM995 893h3v1h-3zM1003 893h3v1h-3zM1000 890h1v1h-1zM999 891h2v1h-2zM999 892h3v1h-3zM998 893h4v1h-4zM998 894h5v1h-5zM997 895h6v1h-6zM1005 895h3v1h-3zM1013 895h3v1h-3zM1010 892h1v1h-1zM1009 893h2v1h-2zM1009 894h3v1h-3zM1008 895h4v1h-4zM1008 896h5v1h-5zM1007 897h6v1h-6zM1015 894h3v1h-3zM1023 894h3v1h-3zM1020 891h1v1h-1zM1019 892h2v1h-2zM1019 893h3v1h-3zM1018 894h4v1h-4zM1018 895h5v1h-5zM1017 896h6v1h-6zM1056 894h3v1h-3zM1064 894h3v1h-3zM1061 891h1v1h-1zM1060 892h2v1h-2zM1060 893h3v1h-3zM1059 894h4v1h-4zM1059 895h5v1h-5zM1058 896h6v1h-6zM1076 894h4v1h-4zM1085 894h3v1h-3zM1082 891h1v1h-1zM1081 892h2v1h-2zM1081 893h3v1h-3zM1080 894h4v1h-4zM1080 895h5v1h-5zM1079 896h6v1h-6zM1087 893h3v1h-3zM1095 893h3v1h-3zM1092 890h1v1h-1zM1091 891h2v1h-2zM1091 892h3v1h-3zM1090 893h4v1h-4zM1090 894h5v1h-5zM1089 895h6v1h-6zM1117 894h3v1h-3zM1125 894h3v1h-3zM1122 891h1v1h-1zM1121 892h2v1h-2zM1121 893h3v1h-3zM1120 894h4v1h-4zM1120 895h5v1h-5zM1119 896h6v1h-6zM1138 894h3v1h-3zM1146 894h3v1h-3zM1143 891h1v1h-1zM1142 892h2v1h-2zM1142 893h3v1h-3zM1141 894h4v1h-4zM1141 895h5v1h-5zM1140 896h6v1h-6z"/>
<path fill="#000" shape-rendering="crispEdges" d="M1026 150h126v3h-126zM1149 105h3v48h-3z"/><rect x="1020.5" y="99.5" width="128" height="50" fill="#f2f2f2" stroke="#000" stroke-width="1" shape-rendering="crispEdges"/><circle cx="1027.5" cy="112.5" r="3.3" fill="#00f"/><path fill="#00f" d="M1027.5 108.3l4.2 4.2l-4.2 4.2l-4.2 -4.2z"/><path fill="#f00" shape-rendering="crispEdges" d="M1027 133h1v1h-1zM1026 134h2v1h-2zM1026 135h3v1h-3zM1025 136h4v1h-4zM1025 137h5v1h-5zM1024 138h6v1h-6z"/><text x="1033" y="117.1" font-size="20.3" textLength="108" lengthAdjust="spacingAndGlyphs">True Proton</text><text x="1033" y="142.1" font-size="20.3" textLength="110" lengthAdjust="spacingAndGlyphs">Fake Proton</text>
<text x="121.9" y="906.65" font-size="30" text-anchor="end" textLength="15.8" lengthAdjust="spacingAndGlyphs">0</text><text x="121.9" y="826.65" font-size="30" text-anchor="end" textLength="31.6" lengthAdjust="spacingAndGlyphs">10</text><text x="121.9" y="747.65" font-size="30" text-anchor="end" textLength="31.6" lengthAdjust="spacingAndGlyphs">20</text><text x="121.9" y="667.65" font-size="30" text-anchor="end" textLength="31.6" lengthAdjust="spacingAndGlyphs">30</text><text x="121.9" y="587.65" font-size="30" text-anchor="end" textLength="31.6" lengthAdjust="spacingAndGlyphs">40</text><text x="121.9" y="508.65" font-size="30" text-anchor="end" textLength="31.6" lengthAdjust="spacingAndGlyphs">50</text><text x="121.9" y="428.65" font-size="30" text-anchor="end" textLength="31.6" lengthAdjust="spacingAndGlyphs">60</text><text x="121.9" y="348.65" font-size="30" text-anchor="end" textLength="31.6" lengthAdjust="spacingAndGlyphs">70</text><text x="121.9" y="268.65" font-size="30" text-anchor="end" textLength="31.6" lengthAdjust="spacingAndGlyphs">80</text><text x="121.9" y="189.65" font-size="30" text-anchor="end" textLength="31.6" lengthAdjust="spacingAndGlyphs">90</text><text x="121.9" y="109.65" font-size="30" text-anchor="end" textLength="47.400000000000006" lengthAdjust="spacingAndGlyphs">100</text><text x="329.2" y="934.4" font-size="30" text-anchor="middle" textLength="63.2" lengthAdjust="spacingAndGlyphs">2000</text><text x="531.2" y="934.4" font-size="30" text-anchor="middle" textLength="63.2" lengthAdjust="spacingAndGlyphs">4000</text><text x="733.2" y="934.4" font-size="30" text-anchor="middle" textLength="63.2" lengthAdjust="spacingAndGlyphs">6000</text><text x="935.2" y="934.4" font-size="30" text-anchor="middle" textLength="63.2" lengthAdjust="spacingAndGlyphs">8000</text><text x="1138.2" y="934.4" font-size="30" text-anchor="middle" textLength="79.0" lengthAdjust="spacingAndGlyphs">10000</text><text x="1148" y="971" font-size="30" text-anchor="end" textLength="585" lengthAdjust="spacingAndGlyphs">Long Proton Transverse Momentum / MeV/c</text><text transform="translate(48 98.4) rotate(-90)" font-size="30" text-anchor="end" textLength="180" lengthAdjust="spacingAndGlyphs">Efficiency / %</text><text x="88" y="41.5" font-size="8.4" textLength="1099" lengthAdjust="spacingAndGlyphs">Long Proton ID Eff. V TrackPt | MVAout &gt; 0.400 | All NaturalMix AllPhysTracksInEvent:AllPhysTracksInEvent ReweightRICH2 EvalNoPreSel | Train:HeavyNoGhosts-Eval:HeavyGhosts | TMVA-NoPreSels-CombDLL-NoGECs | MLP Norm BP NCycles750 CE tanh SF1.4 CVTest15:1e-16 !UseReg</text>
</svg>
</body></html>
